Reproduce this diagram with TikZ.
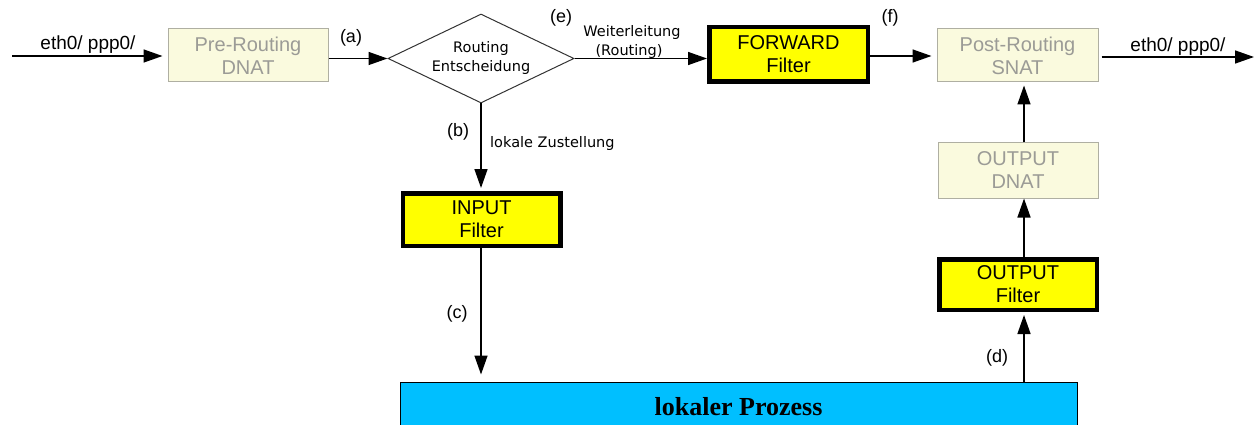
\documentclass[tikz,border=0pt]{standalone}
\usepackage{fontspec}
\setmainfont{Liberation Sans}
\newfontfamily\smallsans{DejaVu Sans}
\newfontfamily\procserif{Liberation Serif}
\usetikzlibrary{arrows.meta,shapes.geometric,calc}

\definecolor{natfill}{RGB}{250,250,222}
\definecolor{natdraw}{RGB}{175,175,162}
\definecolor{nattext}{RGB}{155,155,150}
\definecolor{filteryellow}{RGB}{255,255,0}
\definecolor{procblue}{RGB}{0,191,255}

\begin{document}
\begin{tikzpicture}[x=1pt,y=-1pt,
  every node/.style={inner sep=0pt},
  flow/.style={line width=1.5pt,-{Triangle[length=19pt,width=13pt]}},
  boxfont/.style={font=\fontsize{20}{23}\selectfont},
  natbox/.style={boxfont,draw=natdraw,fill=natfill,line width=1pt,text=nattext,
    align=center,minimum width=160pt,minimum height=53pt},
  filterbox/.style={boxfont,draw=black,fill=filteryellow,line width=4.5pt,
    align=center},
  decision/.style={shape=diamond,draw=black!80,line width=1pt,aspect=2.09,
    minimum width=186pt,minimum height=89pt,align=center,
    font=\smallsans\fontsize{14.5}{19}\selectfont},
  procbox/.style={draw=black,fill=procblue,line width=1pt,
    minimum width=677pt,minimum height=50pt,
    font=\procserif\bfseries\fontsize{26}{30}\selectfont},
  tag/.style={font=\fontsize{18}{21}\selectfont},
  iflabel/.style={font=\fontsize{19}{22}\selectfont},
  note/.style={font=\smallsans\fontsize{14.5}{17}\selectfont}
]
\useasboundingbox (0,0) rectangle (1255,425);
\clip (0,0) rectangle (1255,425);

% chains and decision
\node[natbox] (pre) at (248,55.5) {Pre-Routing\\DNAT};
\node[decision] (dia) at (481,58.5) {Routing\\Entscheidung};
\node[filterbox,minimum width=158.5pt,minimum height=54.5pt] (fwd) at (788.5,54.5) {FORWARD\\Filter};
\node[natbox,minimum width=161pt] (post) at (1017.5,55.5) {Post-Routing\\SNAT};
\node[filterbox,minimum width=157.5pt,minimum height=52.5pt] (input) at (481.5,219.5) {INPUT\\Filter};
\node[natbox,minimum height=55pt] (odnat) at (1018,170.5) {OUTPUT\\DNAT};
\node[filterbox,minimum width=157.5pt,minimum height=50.5pt] (ofilt) at (1018,284.5) {OUTPUT\\Filter};
\node[procbox] (proc) at (738.5,407) {lokaler Prozess};

% loose ends of the interface arrows and the output column
\coordinate (inStart) at (12,56);
\coordinate (outEnd) at (1254,57);
\coordinate (colR) at (1024,0);

% connectors
\draw[flow,shorten >=5pt] (inStart) -- (inStart -| pre.west);
\draw[flow] (pre.east |- dia.west) -- (dia.west);
\draw[flow] (dia.east) -- (dia.east -| fwd.west);
\draw[flow,shorten >=5pt] (fwd.east |- 0,56) -- (post.west |- 0,56);
\draw[flow,shorten <=3pt] (post.east |- outEnd) -- (outEnd);
\draw[flow,shorten >=3pt] (dia.south) -- (dia.south |- input.north);
\draw[flow,shorten >=7pt] (dia.south |- input.south) -- (dia.south |- proc.north);
\draw[flow,shorten >=3pt] (proc.north -| colR) -- (ofilt.south -| colR);
\draw[flow] (ofilt.north -| colR) -- (odnat.south -| colR);
\draw[flow,shorten >=3pt] (odnat.north -| colR) -- (post.south -| colR);

% labels
\node[iflabel,anchor=base] (ifin) at (88,50) {eth0/ ppp0/};
\node[iflabel,anchor=base] (ifout) at (1178,52) {eth0/ ppp0/};
\node[tag,anchor=base] (ta) at (351,43) {(a)};
\node[tag,anchor=base] (tb) at (458,137) {(b)};
\node[tag,anchor=base] (tc) at (457,318) {(c)};
\node[tag,anchor=base] (td) at (997,362) {(d)};
\node[tag,anchor=base] (te) at (561,23) {(e)};
\node[tag,anchor=base] (tf) at (890,23) {(f)};
\node[note,anchor=base] (wl1) at (632,37) {Weiterleitung};
\node[note,anchor=base] (wl2) at (629,56) {(Routing)};
\node[note,anchor=base west] (lz) at (490,147) {lokale Zustellung};
\end{tikzpicture}
\end{document}
